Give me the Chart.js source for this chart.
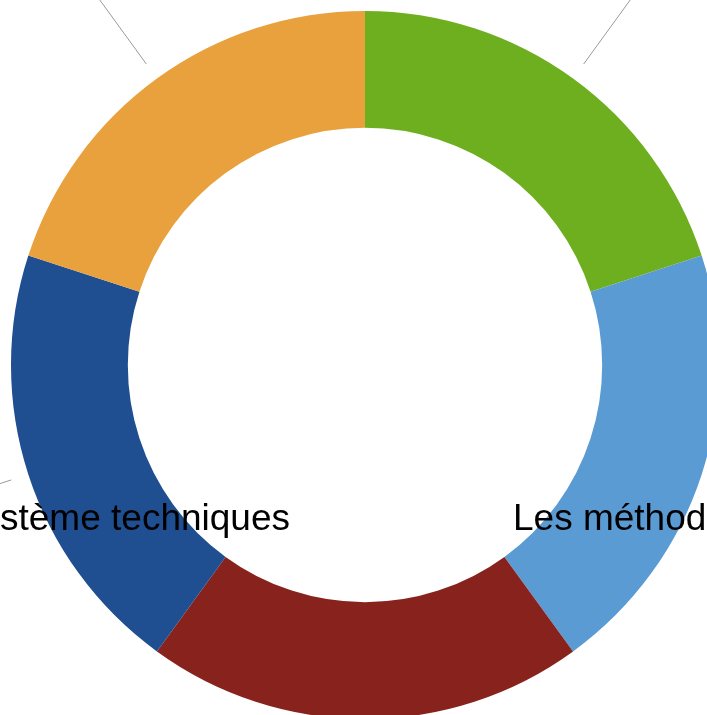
<!DOCTYPE html>
<html>
<head>
<meta charset="utf-8">
<script src="https://cdn.jsdelivr.net/npm/chart.js@4.4.1/dist/chart.umd.min.js"></script>
<style>
  html, body { margin: 0; padding: 0; overflow: hidden; background: #fff; }
  #wrap { position: absolute; left: 0; top: 0; width: 730px; height: 730px; }
</style>
</head>
<body>
<div id="wrap"><canvas id="myChart"></canvas></div>
<script>
// data: five equal slices, clockwise from 12 o'clock
const categories = ['Les objectifs', 'Les méthodes', 'Les acteurs', 'Système techniques', 'Les ressources'];
const values = [20, 20, 20, 20, 20];
const colors = ['#6daf1f', '#5b9bd3', '#88221c', '#1f4e91', '#e8a13d'];

// labels that show inside the visible crop (others are off the page)
const shownLabels = {
  1: { dx: 148, dy: 155, align: 'left' },
  3: { dx: -75, dy: 155, align: 'right' }
};

const leaderPlugin = {
  id: 'leaders',
  afterDraw(chart) {
    const ctx = chart.ctx;
    const meta = chart.getDatasetMeta(0);
    ctx.save();
    meta.data.forEach((arc, i) => {
      const mid = (arc.startAngle + arc.endAngle) / 2;
      const r1 = arc.outerRadius + 18;
      const r2 = arc.outerRadius + 160;
      ctx.beginPath();
      ctx.moveTo(arc.x + Math.cos(mid) * r1, arc.y + Math.sin(mid) * r1);
      ctx.lineTo(arc.x + Math.cos(mid) * r2, arc.y + Math.sin(mid) * r2);
      ctx.strokeStyle = '#9a9a9a';
      ctx.lineWidth = 1;
      ctx.stroke();
    });
    ctx.font = '37px "Liberation Sans", Arial, sans-serif';
    ctx.fillStyle = '#000';
    ctx.textBaseline = 'middle';
    Object.keys(shownLabels).forEach(k => {
      const arc = meta.data[k];
      const p = shownLabels[k];
      ctx.textAlign = p.align;
      ctx.fillText(categories[k], arc.x + p.dx, arc.y + p.dy);
    });
    ctx.restore();
  }
};

let myChart = document.getElementById('myChart').getContext('2d');

let donut = new Chart(myChart, {
  type: 'doughnut',
  data: {
    labels: categories,
    datasets: [{
      data: values,
      backgroundColor: colors,
      borderWidth: 0
    }]
  },
  options: {
    responsive: true,
    maintainAspectRatio: false,
    animation: false,
    cutout: '67%',
    layout: { padding: 11 },
    plugins: {
      legend: { display: false },
      tooltip: { enabled: false }
    }
  },
  plugins: [leaderPlugin]
});
</script>
</body>
</html>
